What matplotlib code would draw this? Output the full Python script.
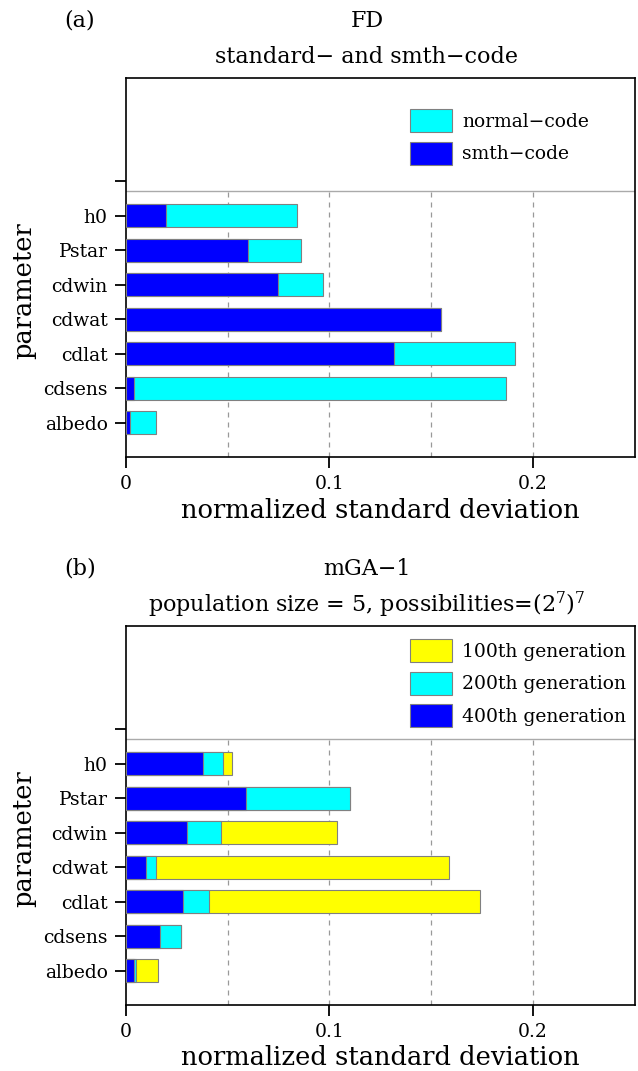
import matplotlib
matplotlib.use("Agg")
import matplotlib.pyplot as plt
from matplotlib.patches import Patch
import numpy as np

plt.rcParams['font.family'] = ['DejaVu Serif']
plt.rcParams['mathtext.fontset'] = 'dejavuserif'

# data
params = ['h0', 'Pstar', 'cdwin', 'cdwat', 'cdlat', 'cdsens', 'albedo']
fd_normal = [0.084, 0.086, 0.097, 0.155, 0.191, 0.187, 0.015]
fd_smth = [0.020, 0.060, 0.075, 0.155, 0.132, 0.004, 0.002]
gen100 = [0.052, 0.110, 0.104, 0.159, 0.174, 0.027, 0.016]
gen200 = [0.048, 0.110, 0.047, 0.015, 0.041, 0.027, 0.005]
gen400 = [0.038, 0.059, 0.030, 0.010, 0.028, 0.017, 0.004]
xticks = [0, 0.1, 0.2]
xticklabels = ['0', '0.1', '0.2']

W, H = 638, 1071
fig = plt.figure(figsize=(W / 100, H / 100), dpi=100)

ypos = np.arange(len(params), 0, -1)
sep = 7.72


def panel(ax, series, tag, title, subtitle, legend_top):
    # longest bars first, shorter ones drawn over them
    for z, (vals, color, label) in enumerate(series):
        ax.barh(ypos, vals, height=0.67, color=color, edgecolor='#808080',
                linewidth=0.8, zorder=2 + z, label=label)
    ax.set_xlim(0, 0.25)
    ax.set_ylim(0, 11)
    ax.vlines([0.05, 0.1, 0.15, 0.2], 0, sep, colors='#999999',
              linestyles=(0, (4, 4)), linewidth=0.9, zorder=1)
    ax.axhline(sep, color='#aaaaaa', linewidth=1.0, zorder=1)
    ax.set_xticks(xticks)
    ax.set_xticklabels(xticklabels, fontsize=13.5)
    ax.set_yticks(list(ypos) + [8])
    ax.set_yticklabels(params + [''], fontsize=13.5)
    ax.tick_params(direction='out', length=8, width=1.3, pad=5)
    for s in ax.spines.values():
        s.set_linewidth(1.2)
    ax.set_xlabel('normalized standard deviation', fontsize=18.5, labelpad=3)
    ax.set_ylabel('parameter', fontsize=18.5)
    ax.yaxis.set_label_coords(-0.175, 0.438)

    bb = ax.get_position()
    top_px = (1 - bb.y1) * H
    fig.text(80 / W, 1 - (top_px - 57) / H, tag, fontsize=16,
             ha='center', va='center')
    fig.text(367 / W, 1 - (top_px - 57) / H, title, fontsize=16,
             ha='center', va='center')
    fig.text(367 / W, 1 - (top_px - 21) / H, subtitle, fontsize=16,
             ha='center', va='center')

    handles = [Patch(facecolor=c, edgecolor='#808080', linewidth=0.8)
               for _, c, _ in series]
    labels = [lab for _, _, lab in series]
    ax.legend(handles, labels, loc='upper left', frameon=False,
              bbox_to_anchor=(401 / W, 1 - (legend_top - 8) / H),
              bbox_transform=fig.transFigure, fontsize=13.5, borderpad=0,
              handlelength=2.2, handleheight=1.5, labelspacing=0.5,
              handletextpad=0.55)


ax1 = fig.add_axes([125.7 / W, 1 - 457.3 / H, 509 / W, 379.6 / H])
panel(ax1,
      [(fd_normal, '#00ffff', 'normal\u2212code'),
       (fd_smth, '#0000ff', 'smth\u2212code')],
      '(a)', 'FD', 'standard\u2212 and smth\u2212code', 108)

ax2 = fig.add_axes([125.7 / W, 1 - 1005 / H, 509 / W, 379 / H])
panel(ax2,
      [(gen100, '#ffff00', '100th generation'),
       (gen200, '#00ffff', '200th generation'),
       (gen400, '#0000ff', '400th generation')],
      '(b)', 'mGA\u22121',
      'population size = 5, possibilities=(2$^{7}$)$^{7}$', 638)

fig.savefig('out.png', dpi=100)
